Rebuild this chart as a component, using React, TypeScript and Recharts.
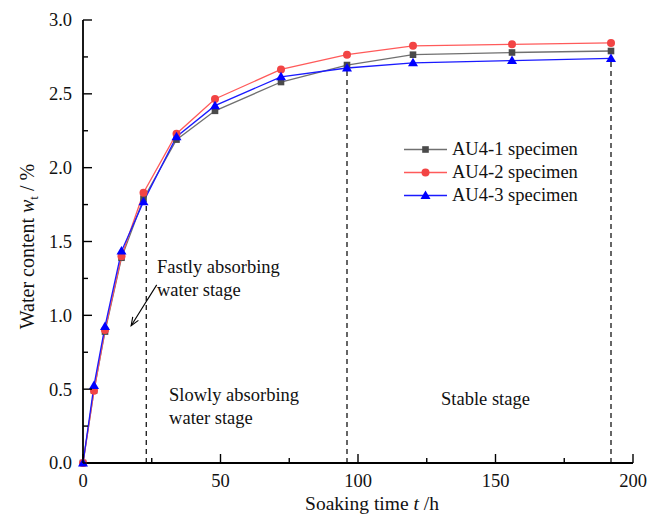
import {
  Label,
  Legend,
  Line,
  LineChart,
  ReferenceDot,
  ReferenceLine,
  XAxis,
  YAxis,
} from "recharts";

// soaking time (h) and water content (%) of the three specimens
const soakTime = [0, 4, 8, 14, 22, 34, 48, 72, 96, 120, 156, 192];
const au41 = [0, 0.49, 0.89, 1.39, 1.79, 2.19, 2.385, 2.58, 2.695, 2.765, 2.78, 2.79];
const au42 = [0, 0.49, 0.9, 1.4, 1.83, 2.23, 2.465, 2.665, 2.765, 2.825, 2.835, 2.845];
const au43 = [0, 0.525, 0.925, 1.435, 1.77, 2.21, 2.42, 2.615, 2.675, 2.71, 2.725, 2.74];

const xTicks = [0, 25, 50, 75, 100, 125, 150, 175, 200];
const yTicks = [0, 0.25, 0.5, 0.75, 1, 1.25, 1.5, 1.75, 2, 2.25, 2.5, 2.75, 3];

// dashed stage boundaries: time and the height they reach
const boundTime = [23, 96, 192];
const boundTop = [1.77, 2.675, 2.74];

const stageNotes = [
  { t: 26.9, v: 1.287, lines: ["Fastly absorbing", "water stage"] },
  { t: 31.3, v: 0.42, lines: ["Slowly absorbing", "water stage"] },
  { t: 130.2, v: 0.39, lines: ["Stable stage"] },
];
const arrowFrom = { t: 26.8, v: 1.206 };
const arrowTo = { t: 17.5, v: 0.93 };

const rows = soakTime.map((t, i) => ({
  t,
  AU41: au41[i],
  AU42: au42[i],
  AU43: au43[i],
}));

const serif = '"Liberation Serif", "Times New Roman", serif';

const series = [
  { key: "AU41", name: "AU4-1 specimen", line: "#707070", mark: "#4a4a4a", shape: "square" },
  { key: "AU42", name: "AU4-2 specimen", line: "#ff5a5a", mark: "#f24444", shape: "circle" },
  { key: "AU43", name: "AU4-3 specimen", line: "#1a1aff", mark: "#0000ff", shape: "triangle" },
];

function Marker({ cx, cy, shape, color }: { cx: number; cy: number; shape: string; color: string }) {
  if (shape === "square") {
    return <rect x={cx - 3.3} y={cy - 3.3} width={6.6} height={6.6} fill={color} />;
  }
  if (shape === "circle") {
    return <circle cx={cx} cy={cy} r={4} fill={color} />;
  }
  return (
    <polygon
      points={`${cx},${cy - 5} ${cx - 5},${cy + 3.5} ${cx + 5},${cy + 3.5}`}
      fill={color}
    />
  );
}

function XTick({ x, y, payload }: any) {
  const major = payload.value % 50 === 0;
  return (
    <g>
      <line x1={x} x2={x} y1={y} y2={y - (major ? 9 : 5)} stroke="#000" strokeWidth={1.4} />
      {major && (
        <text x={x} y={y + 24} textAnchor="middle" fontSize={18.5} fontFamily={serif} fill="#111">
          {payload.value}
        </text>
      )}
    </g>
  );
}

function YTick({ x, y, payload }: any) {
  const v = payload.value as number;
  const major = Math.abs(v * 2 - Math.round(v * 2)) < 1e-6;
  return (
    <g>
      <line x1={x} x2={x + (major ? 9 : 5)} y1={y} y2={y} stroke="#000" strokeWidth={1.4} />
      {major && (
        <text x={x - 11} y={y} dy="0.35em" textAnchor="end" fontSize={18.5} fontFamily={serif} fill="#111">
          {v.toFixed(1)}
        </text>
      )}
    </g>
  );
}

function Arrow({ x1, y1, x2, y2 }: any) {
  const ang = Math.atan2(y2 - y1, x2 - x1);
  const len = 9;
  const spread = 0.38;
  const ax = x2 - len * Math.cos(ang - spread);
  const ay = y2 - len * Math.sin(ang - spread);
  const bx = x2 - len * Math.cos(ang + spread);
  const by = y2 - len * Math.sin(ang + spread);
  return (
    <g stroke="#000" strokeWidth={1.1} fill="none">
      <line x1={x1} y1={y1} x2={x2} y2={y2} />
      <polyline points={`${ax},${ay} ${x2},${y2} ${bx},${by}`} />
    </g>
  );
}

function LegendBox() {
  return (
    <div style={{ fontFamily: serif, fontSize: 18.5, color: "#111" }}>
      {series.map((s) => (
        <div key={s.key} style={{ display: "flex", alignItems: "center", height: 23, lineHeight: "23px" }}>
          <svg width={43} height={23} style={{ display: "block" }}>
            <line x1={0} x2={43} y1={11.5} y2={11.5} stroke={s.line} strokeWidth={1.3} />
            <Marker cx={21.5} cy={11.5} shape={s.shape} color={s.mark} />
          </svg>
          <span style={{ marginLeft: 5, whiteSpace: "nowrap" }}>{s.name}</span>
        </div>
      ))}
    </div>
  );
}

export default function App() {
  return (
    <div style={{ width: 659, height: 515, background: "#fff" }}>
      <style>{"body{margin:0}"}</style>
      <LineChart
        width={659}
        height={515}
        data={rows}
        margin={{ top: 20, right: 26, bottom: 22, left: 23 }}
      >
        <XAxis
          dataKey="t"
          type="number"
          domain={[0, 200]}
          ticks={xTicks}
          interval={0}
          height={30}
          tickSize={0}
          tickMargin={0}
          tickLine={false}
          tick={<XTick />}
          axisLine={{ stroke: "#000", strokeWidth: 1.8 }}
        >
          <Label
            content={({ viewBox }: any) => (
              <text
                x={viewBox.x + viewBox.width / 2 + 14}
                y={viewBox.y + 47}
                textAnchor="middle"
                fontSize={19.5}
                fontFamily={serif}
                fill="#111"
              >
                Soaking time <tspan fontStyle="italic">t</tspan> /h
              </text>
            )}
          />
        </XAxis>
        <YAxis
          type="number"
          domain={[0, 3]}
          ticks={yTicks}
          interval={0}
          width={60}
          tickSize={0}
          tickMargin={0}
          tickLine={false}
          tick={<YTick />}
          axisLine={{ stroke: "#000", strokeWidth: 1.8 }}
        >
          <Label
            content={({ viewBox }: any) => {
              const cx = viewBox.x + viewBox.width - 49;
              const cy = viewBox.y + viewBox.height / 2 + 5;
              return (
                <text
                  x={cx}
                  y={cy}
                  transform={`rotate(-90 ${cx} ${cy})`}
                  textAnchor="middle"
                  fontSize={20}
                  fontFamily={serif}
                  fill="#111"
                >
                  Water content <tspan fontStyle="italic">w</tspan>
                  <tspan fontSize={13} dy={4}>t</tspan>
                  <tspan dy={-4}> / %</tspan>
                </text>
              );
            }}
          />
        </YAxis>

        {boundTime.map((t, i) => (
          <ReferenceLine
            key={t}
            segment={[
              { x: t, y: 0 },
              { x: t, y: boundTop[i] },
            ]}
            stroke="#000"
            strokeWidth={1.2}
            strokeDasharray="5 4"
          />
        ))}

        <ReferenceLine
          segment={[
            { x: arrowFrom.t, y: arrowFrom.v },
            { x: arrowTo.t, y: arrowTo.v },
          ]}
          shape={(p: any) => <Arrow {...p} />}
        />

        {stageNotes.map((n) => (
          <ReferenceDot
            key={n.lines[0]}
            x={n.t}
            y={n.v}
            r={0}
            shape={(p: any) => (
              <text x={p.cx} y={p.cy} fontSize={18.5} fontFamily={serif} fill="#111">
                {n.lines.map((l, i) => (
                  <tspan key={l} x={p.cx} dy={i === 0 ? 0 : 23}>
                    {l}
                  </tspan>
                ))}
              </text>
            )}
          />
        ))}

        {series.map((s) => (
          <Line
            key={s.key}
            type="linear"
            dataKey={s.key}
            name={s.name}
            stroke={s.line}
            strokeWidth={1.3}
            isAnimationActive={false}
            dot={(p: any) => (
              <Marker key={`${s.key}-${p.index}`} cx={p.cx} cy={p.cy} shape={s.shape} color={s.mark} />
            )}
            activeDot={false}
          />
        ))}

        <Legend
          layout="horizontal"
          verticalAlign="middle"
          align="center"
          content={() => <LegendBox />}
          wrapperStyle={{ left: 404, top: 138, width: "auto" }}
        />
      </LineChart>
    </div>
  );
}
